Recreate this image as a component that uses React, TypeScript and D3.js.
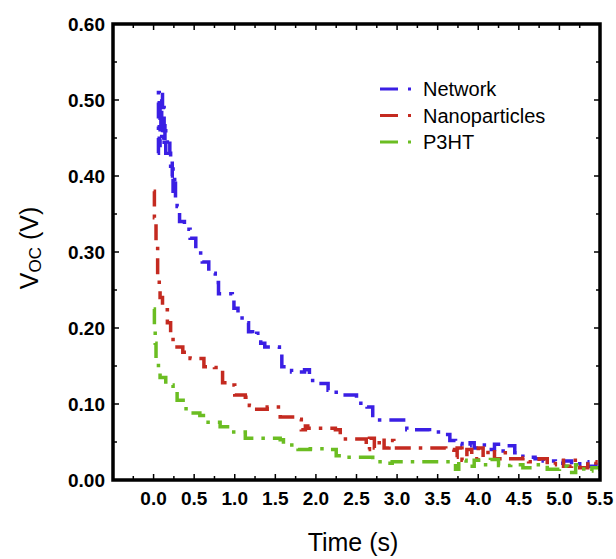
import React from "react";
import * as d3 from "d3";

// Open-circuit voltage decay after illumination is switched off
const networkTime = [0.05, 0.06, 0.07, 0.08, 0.09, 0.1, 0.11, 0.12, 0.13, 0.14, 0.15, 0.17, 0.2, 0.21, 0.23, 0.24, 0.26, 0.27, 0.29, 0.32, 0.38, 0.45, 0.52, 0.58, 0.6, 0.68, 0.76, 0.8, 0.97, 0.99, 1.04, 1.12, 1.17, 1.22, 1.27, 1.32, 1.37, 1.5, 1.55, 1.58, 1.7, 1.86, 1.92, 2.03, 2.15, 2.25, 2.5, 2.63, 2.7, 2.75, 3.06, 3.12, 3.4, 3.58, 3.65, 3.72, 3.8, 3.9, 3.95, 4.05, 4.12, 4.2, 4.28, 4.35, 4.45, 4.55, 4.7, 4.8, 4.95, 5.05, 5.15, 5.25, 5.35, 5.45, 5.5];
const networkVoc = [0.43, 0.51, 0.44, 0.5, 0.45, 0.51, 0.46, 0.49, 0.44, 0.47, 0.43, 0.45, 0.43, 0.4, 0.42, 0.38, 0.4, 0.37, 0.36, 0.34, 0.33, 0.318, 0.305, 0.29, 0.287, 0.272, 0.26, 0.245, 0.24, 0.226, 0.213, 0.207, 0.195, 0.19, 0.193, 0.18, 0.175, 0.175, 0.166, 0.149, 0.142, 0.145, 0.131, 0.127, 0.118, 0.112, 0.101, 0.096, 0.085, 0.079, 0.079, 0.066, 0.063, 0.06, 0.052, 0.048, 0.045, 0.049, 0.042, 0.046, 0.04, 0.047, 0.038, 0.045, 0.036, 0.03, 0.028, 0.025, 0.022, 0.025, 0.02, 0.024, 0.018, 0.022, 0.02];

const nanoTime = [0.0, 0.01, 0.03, 0.05, 0.07, 0.08, 0.11, 0.14, 0.17, 0.21, 0.24, 0.36, 0.45, 0.55, 0.62, 0.75, 0.85, 0.94, 1.0, 1.13, 1.18, 1.22, 1.4, 1.56, 1.78, 1.82, 1.87, 1.9, 2.24, 2.3, 2.58, 2.62, 2.66, 2.72, 2.78, 2.84, 2.9, 2.96, 3.6, 3.7, 3.74, 3.8, 3.86, 3.92, 4.0, 4.06, 4.12, 4.2, 4.3, 4.4, 4.55, 4.62, 4.75, 4.85, 4.95, 5.05, 5.15, 5.25, 5.35, 5.45, 5.5];
const nanoVoc = [0.38, 0.345, 0.31, 0.27, 0.255, 0.24, 0.23, 0.224, 0.207, 0.19, 0.175, 0.168, 0.16, 0.16, 0.149, 0.148, 0.128, 0.125, 0.112, 0.109, 0.098, 0.093, 0.096, 0.083, 0.08, 0.066, 0.071, 0.068, 0.066, 0.054, 0.054, 0.04, 0.055, 0.042, 0.055, 0.042, 0.052, 0.042, 0.04, 0.03, 0.042, 0.026, 0.04, 0.028, 0.042, 0.03, 0.04, 0.028, 0.036, 0.028, 0.029, 0.024, 0.028, 0.02, 0.026, 0.018, 0.026, 0.016, 0.024, 0.014, 0.018];

const p3htTime = [0.0, 0.01, 0.02, 0.03, 0.06, 0.08, 0.15, 0.24, 0.29, 0.4, 0.57, 0.65, 0.82, 0.95, 1.13, 1.43, 1.56, 1.6, 1.72, 1.78, 1.93, 2.17, 2.25, 2.32, 2.6, 2.7, 2.83, 2.94, 3.68, 3.72, 3.76, 3.85, 3.95, 4.05, 4.15, 4.25, 4.4, 4.55, 4.7, 4.85, 5.0, 5.1, 5.2, 5.3, 5.4, 5.5];
const p3htVoc = [0.225, 0.2, 0.18, 0.16, 0.145, 0.135, 0.125, 0.118, 0.105, 0.088, 0.085, 0.076, 0.07, 0.063, 0.055, 0.055, 0.053, 0.046, 0.046, 0.04, 0.041, 0.04, 0.032, 0.03, 0.03, 0.024, 0.022, 0.024, 0.023, 0.014, 0.026, 0.018, 0.026, 0.02, 0.027, 0.019, 0.02, 0.016, 0.02, 0.014, 0.018, 0.01, 0.02, 0.012, 0.016, 0.012];

const seriesNames = ["Network", "Nanoparticles", "P3HT"];
const seriesColors = ["#3a1fe4", "#c42a20", "#6bbd22"];

const xTickValues = [0, 0.5, 1, 1.5, 2, 2.5, 3, 3.5, 4, 4.5, 5, 5.5];
const yTickValues = [0, 0.1, 0.2, 0.3, 0.4, 0.5, 0.6];

const W = 616;
const H = 559;
const left = 113;
const right = 600;
const top = 24;
const bottom = 480;

const font = "'Liberation Sans', Arial, Helvetica, sans-serif";
const dash = "16,8,3.5,8";

export default function App() {
  const x = d3.scaleLinear().domain([-0.5, 5.5]).range([left, right]);
  const y = d3.scaleLinear().domain([0, 0.6]).range([bottom, top]);

  const series = [
    { name: seriesNames[0], color: seriesColors[0], t: networkTime, v: networkVoc },
    { name: seriesNames[1], color: seriesColors[1], t: nanoTime, v: nanoVoc },
    { name: seriesNames[2], color: seriesColors[2], t: p3htTime, v: p3htVoc },
  ];

  const line = d3
    .line<[number, number]>()
    .x((d) => x(d[0]))
    .y((d) => y(d[1]))
    .curve(d3.curveStepAfter);

  const xMinor = d3.range(-0.25, 5.5, 0.25).filter((v) => Math.abs(v * 2 - Math.round(v * 2)) > 1e-6);
  const xMajor = d3.range(-0.5, 5.51, 0.5);
  const yMinor = d3.range(0.05, 0.6, 0.1);

  return (
    <svg width={W} height={H} style={{ position: "absolute", left: 0, top: 0, background: "#fff" }}>
      <defs>
        <clipPath id="plot-area">
          <rect x={left} y={top} width={right - left} height={bottom - top} />
        </clipPath>
      </defs>

      {/* data */}
      <g clipPath="url(#plot-area)">
        {series.map((s) => (
          <path
            key={s.name}
            d={line(s.t.map((t, i) => [t, s.v[i]] as [number, number])) || ""}
            fill="none"
            stroke={s.color}
            strokeWidth={3.5}
            strokeDasharray={dash}
            strokeLinecap="butt"
            strokeLinejoin="miter"
          />
        ))}
      </g>

      {/* ticks pointing inward on all four sides */}
      <g stroke="#000" strokeWidth={1.5}>
        {xMajor.map((v) => (
          <g key={"xM" + v}>
            <line x1={x(v)} x2={x(v)} y1={bottom} y2={bottom - 6} />
            <line x1={x(v)} x2={x(v)} y1={top} y2={top + 6} />
          </g>
        ))}
        {xMinor.map((v) => (
          <g key={"xm" + v}>
            <line x1={x(v)} x2={x(v)} y1={bottom} y2={bottom - 4} />
            <line x1={x(v)} x2={x(v)} y1={top} y2={top + 4} />
          </g>
        ))}
        {yTickValues.map((v) => (
          <g key={"yM" + v}>
            <line x1={left} x2={left + 6} y1={y(v)} y2={y(v)} />
            <line x1={right} x2={right - 6} y1={y(v)} y2={y(v)} />
          </g>
        ))}
        {yMinor.map((v) => (
          <g key={"ym" + v}>
            <line x1={left} x2={left + 4} y1={y(v)} y2={y(v)} />
            <line x1={right} x2={right - 4} y1={y(v)} y2={y(v)} />
          </g>
        ))}
      </g>

      {/* frame */}
      <rect x={left} y={top} width={right - left} height={bottom - top} fill="none" stroke="#000" strokeWidth={3.5} />

      {/* tick labels */}
      <g fontFamily={font} fontWeight="bold" fontSize={19} fill="#000">
        {xTickValues.map((v) => (
          <text key={"xl" + v} x={x(v)} y={505} textAnchor="middle">
            {d3.format(".1f")(v)}
          </text>
        ))}
        {yTickValues.map((v) => (
          <text key={"yl" + v} x={105} y={y(v)} textAnchor="end" dominantBaseline="central">
            {d3.format(".2f")(v)}
          </text>
        ))}
      </g>

      {/* axis titles */}
      <text x={353} y={551} textAnchor="middle" fontFamily={font} fontSize={25} fill="#000">
        Time (s)
      </text>
      <text
        transform="translate(38,248) rotate(-90)"
        textAnchor="middle"
        fontFamily={font}
        fontSize={25}
        fill="#000"
      >
        V
        <tspan fontSize={17} dy={3}>OC</tspan>
        <tspan dy={-3}> (V)</tspan>
      </text>

      {/* legend */}
      <g fontFamily={font} fontSize={20} fill="#000">
        {series.map((s, i) => {
          const ly = 89 + i * 26.5;
          return (
            <g key={"lg" + s.name}>
              <line
                x1={380}
                x2={412}
                y1={ly}
                y2={ly}
                stroke={s.color}
                strokeWidth={3}
                strokeDasharray="18,10,3,10"
              />
              <text x={423} y={ly} dominantBaseline="central">
                {s.name}
              </text>
            </g>
          );
        })}
      </g>
    </svg>
  );
}
